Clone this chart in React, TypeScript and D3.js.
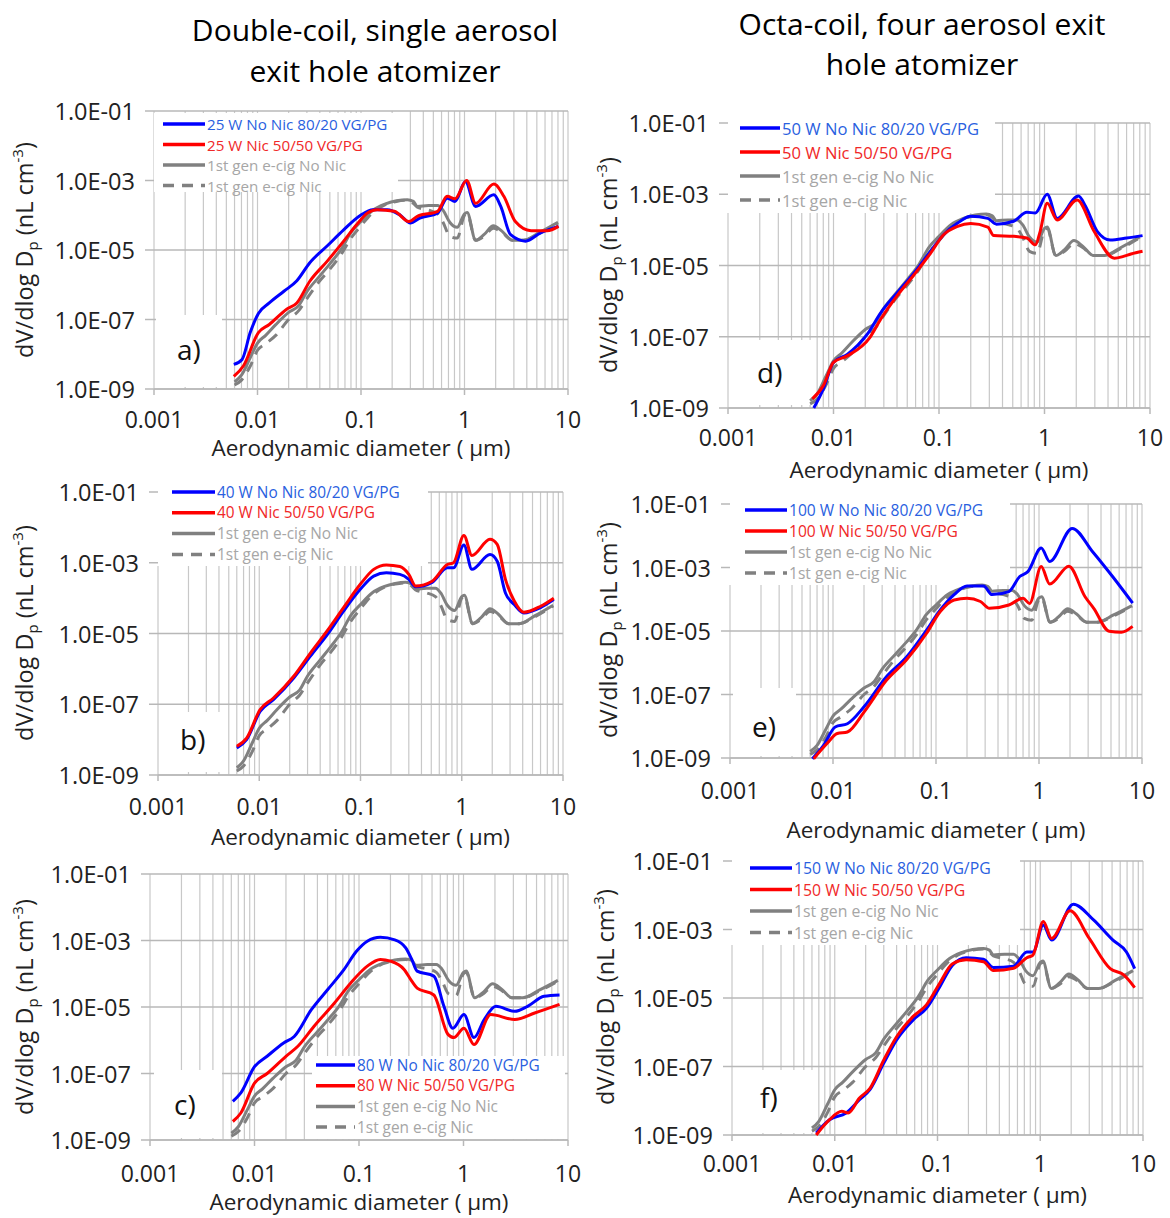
import React from "react";
import * as d3 from "d3";

type Pt = [number, number];

const X_TICKS = [0.001, 0.01, 0.1, 1, 10];
const X_TICK_LABELS = ["0.001", "0.01", "0.1", "1", "10"];
const Y_TICKS = [1e-1, 1e-3, 1e-5, 1e-7, 1e-9];
const Y_TICK_LABELS = ["1.0E-01", "1.0E-03", "1.0E-05", "1.0E-07", "1.0E-09"];

const TITLE_LEFT = ["Double-coil, single aerosol", "exit hole atomizer"];
const TITLE_RIGHT = ["Octa-coil, four aerosol exit", "hole atomizer"];
const X_TITLE = "Aerodynamic diameter ( \u00b5m)";
const PANEL_LABELS = ["a)", "b)", "c)", "d)", "e)", "f)"];
const LEGEND_BLUE = [
  "25 W No Nic 80/20 VG/PG",
  "40 W No Nic 80/20 VG/PG",
  "80 W No Nic 80/20 VG/PG",
  "50 W No Nic 80/20 VG/PG",
  "100 W No Nic 80/20 VG/PG",
  "150 W No Nic 80/20 VG/PG",
];
const LEGEND_RED = [
  "25 W Nic 50/50 VG/PG",
  "40 W Nic 50/50 VG/PG",
  "80 W Nic 50/50 VG/PG",
  "50 W Nic 50/50 VG/PG",
  "100 W Nic 50/50 VG/PG",
  "150 W Nic 50/50 VG/PG",
];
const LEGEND_REF = ["1st gen e-cig No Nic", "1st gen e-cig Nic"];

// 1st generation e-cig reference (same in all panels)
const REF_NO_NIC: Pt[] = [
  [0.006, 1.6e-9], [0.007, 2.5e-9], [0.0085, 7.9e-9], [0.01, 2.1e-8], [0.012, 3.5e-8],
  [0.015, 7.1e-8], [0.02, 1.6e-7], [0.025, 2.5e-7], [0.03, 6.3e-7], [0.04, 1.8e-6],
  [0.05, 4.0e-6], [0.065, 1.1e-5], [0.08, 3.2e-5], [0.1, 6.6e-5], [0.13, 1.4e-4],
  [0.17, 2.1e-4], [0.22, 2.6e-4], [0.28, 2.8e-4], [0.32, 2.5e-4], [0.35, 1.8e-4],
  [0.45, 1.9e-4], [0.55, 1.9e-4], [0.62, 1.4e-4], [0.72, 6.3e-5], [0.85, 4.5e-5],
  [1.0, 1.1e-4], [1.06, 1.2e-4], [1.28, 1.9e-5], [1.55, 2.8e-5], [1.9, 5.0e-5],
  [2.3, 3.5e-5], [2.9, 1.9e-5], [3.7, 1.9e-5], [5.3, 3.2e-5], [8, 6.3e-5],
];
const REF_NIC: Pt[] = [
  [0.006, 1.3e-9], [0.007, 1.8e-9], [0.0085, 4.5e-9], [0.01, 1.3e-8], [0.012, 2.0e-8],
  [0.015, 3.5e-8], [0.02, 1.0e-7], [0.025, 1.8e-7], [0.03, 4.0e-7], [0.04, 1.3e-6],
  [0.05, 2.8e-6], [0.065, 7.9e-6], [0.08, 2.2e-5], [0.1, 5.0e-5], [0.13, 1.2e-4],
  [0.17, 2.0e-4], [0.22, 2.5e-4], [0.28, 2.7e-4], [0.32, 2.2e-4], [0.35, 1.7e-4],
  [0.45, 1.4e-4], [0.55, 1.1e-4], [0.62, 6.3e-5], [0.72, 2.5e-5], [0.85, 2.2e-5],
  [1.0, 1.0e-4], [1.06, 1.1e-4], [1.28, 1.9e-5], [1.55, 2.5e-5], [1.9, 4.2e-5],
  [2.3, 3.2e-5], [2.9, 1.9e-5], [3.7, 1.9e-5], [5.3, 3.0e-5], [8, 6.0e-5],
];

// a) 25 W
const A_BLUE: Pt[] = [
  [0.0059, 5.1e-9], [0.0071, 7.1e-9], [0.0085, 4.2e-8], [0.0102, 1.5e-7], [0.013, 3.0e-7],
  [0.018, 6.5e-7], [0.024, 1.3e-6], [0.032, 4.3e-6], [0.047, 1.3e-5], [0.068, 3.8e-5],
  [0.099, 1.0e-4], [0.13, 1.45e-4], [0.18, 1.45e-4], [0.24, 1.0e-4], [0.3, 6.0e-5],
  [0.37, 8.3e-5], [0.55, 1.15e-4], [0.68, 3.1e-4], [0.81, 2.5e-4], [1.02, 9.3e-4],
  [1.28, 1.8e-4], [1.92, 3.9e-4], [2.24, 1.8e-4], [2.79, 2.75e-5], [3.89, 1.8e-5],
  [5.43, 3.1e-5], [8.1, 4.8e-5],
];
const A_RED: Pt[] = [
  [0.0059, 2.3e-9], [0.0073, 4.6e-9], [0.0102, 4.2e-8], [0.013, 7.2e-8], [0.019, 1.95e-7],
  [0.024, 3.0e-7], [0.032, 1.26e-6], [0.047, 4.7e-6], [0.068, 1.8e-5], [0.091, 5.4e-5],
  [0.115, 1.15e-4], [0.143, 1.45e-4], [0.21, 1.3e-4], [0.29, 6.6e-5], [0.35, 9.3e-5],
  [0.55, 1.3e-4], [0.68, 3.5e-4], [0.81, 3.0e-4], [1.05, 1.0e-3], [1.28, 2.2e-4],
  [1.92, 7.9e-4], [2.4, 3.5e-4], [3.1, 6.6e-5], [4.4, 3.6e-5], [6.3, 3.6e-5], [8.1, 4.8e-5],
];

// b) 40 W
const B_BLUE: Pt[] = [
  [0.006, 5.8e-9], [0.0075, 1.0e-8], [0.0102, 6.3e-8], [0.0138, 1.35e-7], [0.022, 5.6e-7],
  [0.032, 2.3e-6], [0.047, 9.3e-6], [0.068, 4.3e-5], [0.1, 1.8e-4], [0.135, 4.2e-4],
  [0.18, 5.2e-4], [0.245, 4.7e-4], [0.3, 3.4e-4], [0.35, 2.1e-4], [0.51, 2.8e-4],
  [0.72, 7.2e-4], [0.83, 7.2e-4], [1.05, 3.2e-3], [1.26, 6.5e-4], [1.9, 1.7e-3],
  [2.24, 1.1e-3], [2.7, 1.4e-4], [3.3, 6.6e-5], [4.1, 3.8e-5], [6.0, 5.4e-5], [8.1, 9.1e-5],
];
const B_RED: Pt[] = [
  [0.006, 6.5e-9], [0.0075, 1.1e-8], [0.0102, 7.1e-8], [0.0138, 1.5e-7], [0.022, 6.3e-7],
  [0.032, 2.8e-6], [0.047, 1.2e-5], [0.068, 5.4e-5], [0.1, 2.5e-4], [0.135, 6.5e-4],
  [0.18, 8.7e-4], [0.245, 7.8e-4], [0.3, 4.7e-4], [0.35, 2.2e-4], [0.51, 3.0e-4],
  [0.72, 8.9e-4], [0.83, 1.0e-3], [1.05, 5.9e-3], [1.26, 1.6e-3], [1.9, 4.6e-3],
  [2.24, 3.3e-3], [2.7, 3.4e-4], [3.3, 8.3e-5], [4.1, 4.0e-5], [6.0, 5.9e-5], [8.1, 1.0e-4],
];

// c) 80 W
const C_BLUE: Pt[] = [
  [0.0062, 1.45e-8], [0.0074, 2.6e-8], [0.01, 1.6e-7], [0.0132, 3.3e-7], [0.019, 8.3e-7],
  [0.024, 1.3e-6], [0.035, 8.3e-6], [0.05, 3.3e-5], [0.072, 1.35e-4], [0.095, 4.8e-4],
  [0.12, 9.5e-4], [0.16, 1.25e-3], [0.22, 1.05e-3], [0.28, 6.0e-4], [0.32, 2.7e-4],
  [0.36, 1.2e-4], [0.52, 8.5e-5], [0.65, 1.05e-5], [0.79, 2.3e-6], [1.01, 5.9e-6],
  [1.26, 1.2e-6], [1.58, 4.2e-6], [2.04, 1.05e-5], [3.1, 7.4e-6], [4.1, 1.05e-5],
  [5.9, 2.1e-5], [8.3, 2.3e-5],
];
const C_RED: Pt[] = [
  [0.0062, 3.6e-9], [0.0074, 6.5e-9], [0.01, 5.1e-8], [0.0132, 1.0e-7], [0.02, 3.3e-7],
  [0.026, 6.6e-7], [0.037, 2.6e-6], [0.058, 1.3e-5], [0.083, 5.2e-5], [0.12, 1.7e-4],
  [0.16, 2.7e-4], [0.2, 2.4e-4], [0.27, 1.35e-4], [0.32, 6.0e-5], [0.36, 3.7e-5],
  [0.52, 2.3e-5], [0.71, 1.5e-6], [0.81, 1.2e-6], [1.01, 2.3e-6], [1.26, 7.4e-7],
  [1.82, 5.9e-6], [3.1, 4.2e-6], [4.8, 6.6e-6], [8.3, 1.2e-5],
];

// d) 50 W
const D_BLUE: Pt[] = [
  [0.0065, 1.0e-9], [0.008, 3.4e-9], [0.01, 1.9e-8], [0.0135, 3.2e-8], [0.021, 1.2e-7],
  [0.028, 4.7e-7], [0.04, 1.7e-6], [0.058, 6.2e-6], [0.083, 2.5e-5], [0.11, 7.2e-5],
  [0.15, 1.55e-4], [0.2, 2.4e-4], [0.29, 2.1e-4], [0.35, 1.45e-4], [0.51, 1.75e-4],
  [0.68, 3.1e-4], [0.82, 3.0e-4], [1.06, 1.0e-3], [1.32, 2.1e-4], [2.1, 8.9e-4],
  [2.45, 4.6e-4], [3.16, 9.1e-5], [4.2, 5.2e-5], [6.0, 5.9e-5], [8.5, 6.9e-5],
];
const D_RED: Pt[] = [
  [0.0063, 1.8e-9], [0.008, 4.2e-9], [0.01, 1.9e-8], [0.0135, 2.9e-8], [0.022, 9.3e-8],
  [0.028, 3.1e-7], [0.04, 1.4e-6], [0.058, 5.5e-6], [0.083, 2.2e-5], [0.11, 7.2e-5],
  [0.15, 1.26e-4], [0.2, 1.5e-4], [0.29, 1.2e-4], [0.33, 6.9e-5], [0.51, 6.6e-5],
  [0.68, 5.9e-5], [0.82, 3.8e-5], [0.91, 9.1e-5], [1.06, 5.6e-4], [1.32, 1.9e-4],
  [2.04, 6.9e-4], [2.95, 9.1e-5], [4.6, 1.6e-5], [5.6, 1.8e-5], [6.6, 2.1e-5], [8.5, 2.5e-5],
];

// e) 100 W
const E_BLUE: Pt[] = [
  [0.0063, 9.5e-10], [0.0081, 2.5e-9], [0.0105, 9.5e-9], [0.0138, 1.2e-8], [0.02, 4.1e-8],
  [0.033, 3.6e-7], [0.052, 1.55e-6], [0.081, 1.07e-5], [0.11, 4.6e-5], [0.15, 1.4e-4],
  [0.2, 2.6e-4], [0.29, 2.6e-4], [0.35, 1.4e-4], [0.51, 1.75e-4], [0.65, 5.2e-4],
  [0.78, 7.4e-4], [1.05, 4.1e-3], [1.27, 1.55e-3], [2.1, 1.7e-2], [3.3, 3.2e-3],
  [5.2, 5.1e-4], [8.1, 7.6e-5],
];
const E_RED: Pt[] = [
  [0.0065, 9.5e-10], [0.0087, 2.8e-9], [0.011, 5.9e-9], [0.0138, 6.6e-9], [0.02, 2.8e-8],
  [0.033, 2.8e-7], [0.052, 1.26e-6], [0.081, 8.5e-6], [0.11, 4.1e-5], [0.15, 9.5e-5],
  [0.2, 1.07e-4], [0.27, 8.5e-5], [0.33, 5.2e-5], [0.51, 6.6e-5], [0.7, 1.07e-4],
  [0.81, 7.4e-5], [1.05, 1.07e-3], [1.27, 3.0e-4], [1.95, 1.1e-3], [2.8, 1.2e-4],
  [3.4, 5.2e-5], [4.8, 9.8e-6], [6.3, 9.1e-6], [8.1, 1.4e-5],
];

// f) 150 W
const F_BLUE: Pt[] = [
  [0.0066, 1.15e-9], [0.0089, 2.8e-9], [0.0129, 4.4e-9], [0.0174, 1.07e-8], [0.022, 2.1e-8],
  [0.03, 1.26e-7], [0.04, 6.0e-7], [0.058, 2.3e-6], [0.078, 5.0e-6], [0.105, 2.1e-5],
  [0.14, 9.1e-5], [0.19, 1.5e-4], [0.28, 1.35e-4], [0.35, 7.8e-5], [0.55, 8.5e-5],
  [0.74, 2.2e-4], [0.85, 2.2e-4], [1.07, 1.35e-3], [1.29, 4.9e-4], [2.1, 5.5e-3],
  [3.3, 1.9e-3], [5.1, 4.9e-4], [6.9, 2.2e-4], [8.3, 7.2e-5],
];
const F_RED: Pt[] = [
  [0.0066, 1.0e-9], [0.0089, 2.8e-9], [0.0117, 4.9e-9], [0.0135, 4.4e-9], [0.0174, 1.2e-8],
  [0.022, 2.3e-8], [0.03, 1.55e-7], [0.04, 7.4e-7], [0.058, 2.9e-6], [0.078, 6.3e-6],
  [0.105, 2.7e-5], [0.14, 1.0e-4], [0.19, 1.3e-4], [0.28, 1.15e-4], [0.35, 6.3e-5],
  [0.55, 7.4e-5], [0.74, 1.5e-4], [0.85, 1.8e-4], [1.07, 1.7e-3], [1.29, 5.5e-4],
  [1.95, 3.5e-3], [3.0, 5.5e-4], [4.8, 7.2e-5], [6.5, 4.7e-5], [8.3, 2.0e-5],
];

const BLUE_SERIES = [A_BLUE, B_BLUE, C_BLUE, D_BLUE, E_BLUE, F_BLUE];
const RED_SERIES = [A_RED, B_RED, C_RED, D_RED, E_RED, F_RED];

// ---------- layout (pixel positions) ----------
const LAYOUT = [
  { xL: 154, xR: 568, yT: 111, yB: 389, lg: { x: 163, y: 124, dy: 20.5, len: 42, fs: 15.2 }, lgBox: [154, 113, 398, 192], lbBox: [156, 315, 222, 387], lb: { x: 177, y: 360 }, yl: { x: 33, y: 250 }, xtY: 428, xtitY: 456 },
  { xL: 158, xR: 563, yT: 492, yB: 775, lg: { x: 172, y: 492, dy: 20.8, len: 43, fs: 15.4 }, lgBox: [157, 484, 428, 566], lbBox: [162, 712, 228, 772], lb: { x: 180, y: 750 }, yl: { x: 33, y: 633 }, xtY: 815, xtitY: 845 },
  { xL: 150, xR: 568, yT: 874, yB: 1140, lg: { x: 316, y: 1065, dy: 20.7, len: 39, fs: 15.4 }, lgBox: [312, 1056, 565, 1139], lbBox: [154, 1070, 222, 1138], lb: { x: 174, y: 1115 }, yl: { x: 33, y: 1007 }, xtY: 1182, xtitY: 1210 },
  { xL: 728, xR: 1150, yT: 123, yB: 408, lg: { x: 740, y: 128, dy: 24, len: 40, fs: 16.6 }, lgBox: [727, 117, 995, 213], lbBox: [732, 340, 815, 405], lb: { x: 757, y: 383 }, yl: { x: 617, y: 265 }, xtY: 446, xtitY: 478 },
  { xL: 730, xR: 1142, yT: 504, yB: 758, lg: { x: 745, y: 510, dy: 21, len: 42, fs: 15.6 }, lgBox: [729, 498, 1010, 585], lbBox: [733, 688, 796, 756], lb: { x: 752, y: 737 }, yl: { x: 617, y: 630 }, xtY: 799, xtitY: 838 },
  { xL: 732, xR: 1143, yT: 861, yB: 1135, lg: { x: 750, y: 868, dy: 21.5, len: 42, fs: 15.8 }, lgBox: [731, 855, 1020, 945], lbBox: [736, 1070, 815, 1133], lb: { x: 760, y: 1108 }, yl: { x: 614, y: 997 }, xtY: 1172, xtitY: 1203 },
];

const FONT = "'Open Sans', 'Noto Sans', sans-serif";
const BLUE = "#0000ff";
const RED = "#ff0000";
const GRAY = "#808080";
const BLUE_TXT = "#2a5fe0";
const RED_TXT = "#f02828";
const GRAY_TXT = "#a6a6a6";
const GRID = "#c8c8c8";
const MAJOR = "#b8b8b8";
const TICK_FS = 23;
const TEXT_COL = "#222";

const MINOR_GRID: number[] = (() => {
  const out: number[] = [];
  for (let e = -3; e <= 0; e++) for (let k = 1; k <= 9; k++) out.push(k * Math.pow(10, e));
  out.push(10);
  return out;
})();

function Panel({ i }: { i: number }) {
  const L = LAYOUT[i];
  const x = d3.scaleLog().domain([0.001, 10]).range([L.xL, L.xR]);
  const y = d3.scaleLog().domain([1e-9, 1e-1]).range([L.yB, L.yT]);
  const line = d3
    .line<Pt>()
    .x((d) => x(d[0]))
    .y((d) => y(d[1]))
    .curve(d3.curveMonotoneX);

  const lgItems = [
    { label: LEGEND_BLUE[i], color: BLUE, txt: BLUE_TXT, dash: undefined as string | undefined },
    { label: LEGEND_RED[i], color: RED, txt: RED_TXT, dash: undefined },
    { label: LEGEND_REF[0], color: GRAY, txt: GRAY_TXT, dash: undefined },
    { label: LEGEND_REF[1], color: GRAY, txt: GRAY_TXT, dash: "11,8" },
  ];
  const [bx0, by0, bx1, by1] = L.lgBox;
  const [lx0, ly0, lx1, ly1] = L.lbBox;
  const cx = (L.xL + L.xR) / 2;

  return (
    <g>
      {MINOR_GRID.map((v, k) => (
        <line key={"v" + k} x1={x(v)} x2={x(v)} y1={L.yT} y2={L.yB} stroke={GRID} strokeWidth={1.2} />
      ))}
      {Y_TICKS.map((v, k) => (
        <line key={"h" + k} x1={L.xL} x2={L.xR} y1={y(v)} y2={y(v)} stroke={MAJOR} strokeWidth={1.5} />
      ))}
      <rect x={bx0} y={by0} width={bx1 - bx0} height={by1 - by0} fill="#fff" />
      <rect x={lx0} y={ly0} width={lx1 - lx0} height={ly1 - ly0} fill="#fff" />
      <line x1={L.xL} x2={L.xR} y1={L.yB} y2={L.yB} stroke={MAJOR} strokeWidth={1.5} />
      {X_TICKS.map((v, k) => (
        <line key={"xt" + k} x1={x(v)} x2={x(v)} y1={L.yB} y2={L.yB + 6} stroke={MAJOR} strokeWidth={1.5} />
      ))}
      {Y_TICKS.map((v, k) => (
        <line key={"yt" + k} x1={L.xL - 9} x2={L.xL} y1={y(v)} y2={y(v)} stroke={MAJOR} strokeWidth={1.5} />
      ))}
      {X_TICKS.map((v, k) => (
        <text key={"xl" + k} x={x(v)} y={L.xtY} textAnchor="middle" fontSize={TICK_FS} fill={TEXT_COL} fontFamily={FONT}>
          {X_TICK_LABELS[k]}
        </text>
      ))}
      {Y_TICKS.map((v, k) => (
        <text key={"yl" + k} x={L.xL - 19} y={y(v)} textAnchor="end" dominantBaseline="central" fontSize={23.5} fill={TEXT_COL} fontFamily={FONT}>
          {Y_TICK_LABELS[k]}
        </text>
      ))}
      <text x={cx} y={L.xtitY} textAnchor="middle" fontSize={22.5} fill={TEXT_COL} fontFamily={FONT}>
        {X_TITLE}
      </text>
      <text transform={`translate(${L.yl.x},${L.yl.y}) rotate(-90)`} textAnchor="middle" fontSize={23.5} fill={TEXT_COL} fontFamily={FONT}>
        dV/dlog D
        <tspan fontSize={15} dy={5}>p</tspan>
        <tspan dy={-5}> (nL cm</tspan>
        <tspan fontSize={15} dy={-10}>-3</tspan>
        <tspan dy={10}>)</tspan>
      </text>
      <path d={line(REF_NIC) || ""} fill="none" stroke={GRAY} strokeWidth={3} strokeDasharray="11,8" />
      <path d={line(REF_NO_NIC) || ""} fill="none" stroke={GRAY} strokeWidth={3} />
      <path d={line(BLUE_SERIES[i]) || ""} fill="none" stroke={BLUE} strokeWidth={3} />
      <path d={line(RED_SERIES[i]) || ""} fill="none" stroke={RED} strokeWidth={3} />
      {lgItems.map((it, k) => (
        <g key={"lg" + k}>
          <line x1={L.lg.x} x2={L.lg.x + L.lg.len} y1={L.lg.y + k * L.lg.dy} y2={L.lg.y + k * L.lg.dy} stroke={it.color} strokeWidth={3.5} strokeDasharray={it.dash} />
          <text x={L.lg.x + L.lg.len + 2} y={L.lg.y + k * L.lg.dy} dominantBaseline="central" fontSize={L.lg.fs} fill={it.txt} fontFamily={FONT}>
            {it.label}
          </text>
        </g>
      ))}
      <text x={L.lb.x} y={L.lb.y} fontSize={28} fill="#111" fontFamily={FONT}>
        {PANEL_LABELS[i]}
      </text>
    </g>
  );
}

export default function App() {
  return (
    <div style={{ position: "absolute", left: 0, top: 0 }}>
      <svg width={1170} height={1218} viewBox="0 0 1170 1218" style={{ display: "block", background: "#fff" }}>
        <rect x={0} y={0} width={1170} height={1218} fill="#fff" />
        {TITLE_LEFT.map((t, k) => (
          <text key={"tl" + k} x={375} y={41 + k * 41} textAnchor="middle" fontSize={30} fill="#000" fontFamily={FONT}>
            {t}
          </text>
        ))}
        {TITLE_RIGHT.map((t, k) => (
          <text key={"tr" + k} x={922} y={35 + k * 40} textAnchor="middle" fontSize={30} fill="#000" fontFamily={FONT}>
            {t}
          </text>
        ))}
        {LAYOUT.map((_, i) => (
          <Panel key={i} i={i} />
        ))}
      </svg>
    </div>
  );
}
